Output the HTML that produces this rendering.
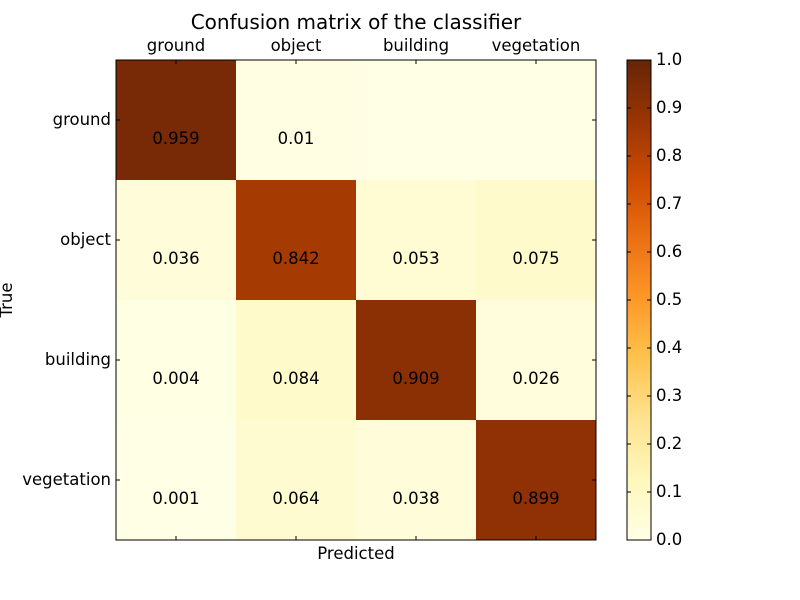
<!DOCTYPE html>
<html><head><meta charset="utf-8"><style>body{margin:0;background:#fff}svg{display:block;font-family:"DejaVu Sans","Liberation Sans",sans-serif}</style></head>
<body>
<svg id="c" width="800" height="600"></svg>
<script>
const categories=["ground","object","building","vegetation"];
const matrixValues=[[0.959,0.01,0,0],[0.036,0.842,0.053,0.075],[0.004,0.084,0.909,0.026],[0.001,0.064,0.038,0.899]];
const colorbarTicks=[0,0.1,0.2,0.3,0.4,0.5,0.6,0.7,0.8,0.9,1.0];
const stops=["#ffffe5","#fff7bc","#fee391","#fec44f","#fe9929","#ec7014","#cc4c02","#993404","#662506"];
const NS="http://www.w3.org/2000/svg",svg=document.getElementById('c');
const FS=16.5;
function mk(t,a,txt){const e=document.createElementNS(NS,t);for(const k in a)e.setAttribute(k,a[k]);if(txt!==undefined)e.textContent=txt;svg.appendChild(e);return e;}
function hex(h){return [1,3,5].map(i=>parseInt(h.substr(i,2),16));}
function cmap(v){v=Math.max(0,Math.min(1,v));const p=v*(stops.length-1),i=Math.min(Math.floor(p),stops.length-2),f=p-i;const a=hex(stops[i]),b=hex(stops[i+1]);return `rgb(${a.map((x,k)=>Math.round(x+(b[k]-x)*f)).join(',')})`;}
const X0=116,Y0=60,W=480,n=categories.length,cw=W/n;
const xs=j=>X0+j*cw, ys=i=>Y0+i*cw;
const CB={x:627,y:60,w:24,h:480}; const cby=v=>CB.y+CB.h*(1-v);
let e;
e=mk('text',{x:356,y:29,'text-anchor':'middle','font-size':20},'Confusion matrix of the classifier');

matrixValues.forEach((row,i)=>row.forEach((v,j)=>{
 e=mk('rect',{x:xs(j),y:ys(i),width:cw,height:cw,fill:cmap(v)});
 
 if(v>0){e=mk('text',{x:xs(j)+cw/2,y:ys(i)+cw/2+24,'text-anchor':'middle','font-size':FS},String(v));
 }
}));
e=mk('rect',{x:X0,y:Y0,width:W,height:W,fill:'none',stroke:'#000','stroke-width':1});

categories.forEach((c,k)=>{
 const cx=xs(k)+cw/2,cy=ys(k)+cw/2;
 mk('line',{x1:cx,y1:Y0,x2:cx,y2:Y0+4,stroke:'#000'});mk('line',{x1:cx,y1:Y0+W,x2:cx,y2:Y0+W-4,stroke:'#000'});
 mk('line',{x1:X0,y1:cy,x2:X0+4,y2:cy,stroke:'#000'});mk('line',{x1:X0+W,y1:cy,x2:X0+W-4,y2:cy,stroke:'#000'});
 e=mk('text',{x:cx,y:51,'text-anchor':'middle','font-size':FS},c);
 
 e=mk('text',{x:111,y:cy+5,'text-anchor':'end','font-size':FS},c);
 
});
e=mk('text',{x:356,y:559,'text-anchor':'middle','font-size':FS},'Predicted');

e=mk('text',{x:12,y:300,'text-anchor':'middle','font-size':FS,transform:'rotate(-90 12 300)'},'True');

const defs=mk('defs',{});const g=document.createElementNS(NS,'linearGradient');g.setAttribute('id','cbg');g.setAttribute('x1','0');g.setAttribute('y1','1');g.setAttribute('x2','0');g.setAttribute('y2','0');
stops.forEach((s,i)=>{const st=document.createElementNS(NS,'stop');st.setAttribute('offset',i/(stops.length-1));st.setAttribute('stop-color',s);g.appendChild(st);});defs.appendChild(g);
e=mk('rect',{x:CB.x,y:CB.y,width:CB.w,height:CB.h,fill:'url(#cbg)',stroke:'#000'});

colorbarTicks.forEach(t=>{const y=cby(t);
 mk('line',{x1:CB.x,y1:y,x2:CB.x+4,y2:y,stroke:'#000'});mk('line',{x1:CB.x+CB.w,y1:y,x2:CB.x+CB.w-4,y2:y,stroke:'#000'});
 e=mk('text',{x:656,y:y+5,'font-size':FS},t.toFixed(1));
 
});
</script>
</body></html>
